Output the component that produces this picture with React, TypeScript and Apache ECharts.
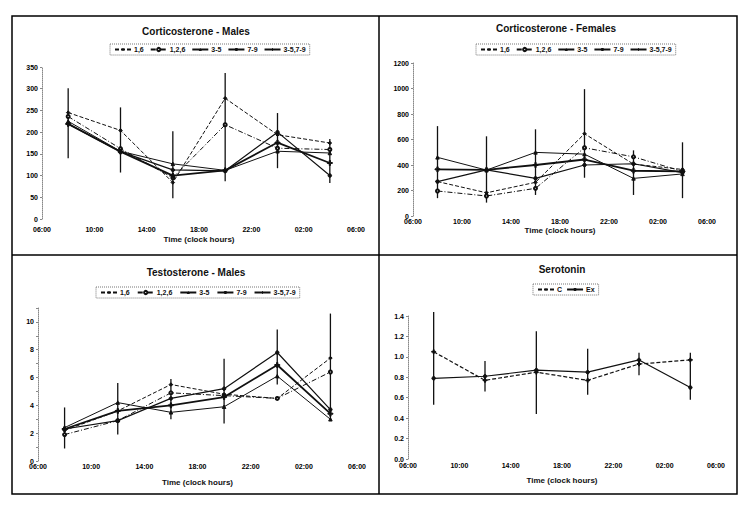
import React, { useEffect, useRef } from "react";
import * as echarts from "echarts";

// Clock hours at which samples were taken
const sampleHours = [8, 12, 16, 20, 0, 4];
const groupNames = ["1,6", "1,2,6", "3-5", "7-9", "3-5,7-9"];
const serotoninNames = ["C", "Ex"];

// Corticosterone - Males
const cortM_16 = [245, 204, 84, 278, 194, 175];
const cortM_126 = [236, 162, 95, 217, 163, 160];
const cortM_35 = [225, 156, 127, 112, 156, 152];
const cortM_79 = [219, 155, 113, 111, 200, 100];
const cortM_all = [219, 155, 100, 112, 176, 129];
const cortM_errLow = [140, 107, 48, 87, 117, 83];
const cortM_errHigh = [301, 257, 202, 336, 244, 184];

// Corticosterone - Females
const cortF_16 = [270, 182, 264, 645, 407, 365];
const cortF_126 = [196, 157, 217, 535, 464, 350];
const cortF_35 = [460, 360, 499, 485, 295, 330];
const cortF_79 = [270, 362, 295, 400, 410, 340];
const cortF_all = [366, 362, 400, 443, 355, 350];
const cortF_errLow = [140, 105, 165, 300, 165, 140];
const cortF_errHigh = [705, 625, 680, 995, 515, 578];

// Testosterone - Males
const testo_16 = [2.2, 3.6, 5.5, 4.8, 4.5, 7.4];
const testo_126 = [1.9, 2.9, 4.9, 4.7, 4.5, 6.4];
const testo_35 = [2.4, 4.2, 3.5, 3.9, 6.1, 3.0];
const testo_79 = [2.3, 2.9, 4.5, 5.2, 7.8, 3.7];
const testo_all = [2.3, 3.6, 4.0, 4.6, 6.9, 3.4];
const testo_errLow = [0.9, 1.9, 3.0, 2.7, 5.5, 2.9];
const testo_errHigh = [3.85, 5.6, 5.9, 7.35, 9.45, 10.6];

// Serotonin
const sero_C = [1.05, 0.77, 0.85, 0.77, 0.93, 0.97];
const sero_Ex = [0.79, 0.81, 0.87, 0.85, 0.97, 0.70];
const sero_errLow = [0.53, 0.66, 0.44, 0.63, 0.82, 0.58];
const sero_errHigh = [1.44, 0.96, 1.25, 1.08, 1.04, 1.04];

const FONT = "'Liberation Sans', Arial, sans-serif";
const INK = "#111";

const offsets = sampleHours.map((h) => (h - 6 + 24) % 24);
const fmtHour = (v: number) => String((v + 6) % 24).padStart(2, "0") + ":00";

const PLUS = "path://M0,4h3v-4h2v4h3v2h-3v4h-2v-4h-3z";

const groupStyles = [
  { symbol: "diamond", size: 3.5, width: 1, type: [4, 2] as any },
  { symbol: "emptyCircle", size: 3, width: 1, type: [5, 2, 1, 2] as any },
  { symbol: "triangle", size: 3.5, width: 1, type: "solid" },
  { symbol: "circle", size: 3.5, width: 1.2, type: "solid" },
  { symbol: PLUS, size: 5, width: 1.8, type: "solid" },
];
const seroStyles = [
  { symbol: PLUS, size: 4, width: 1.2, type: [4, 2] as any },
  { symbol: "circle", size: 3.5, width: 1.2, type: "solid" },
];

function lineSeries(name: string, vals: number[], idx: number, st: any) {
  return {
    type: "line",
    name,
    xAxisIndex: idx,
    yAxisIndex: idx,
    data: offsets.map((x, i) => [x, vals[i]]),
    symbol: st.symbol,
    symbolSize: st.size,
    lineStyle: { color: INK, width: st.width, type: st.type },
    itemStyle: { color: INK, borderColor: INK },
    z: 3,
  };
}

function errSeries(lo: number[], hi: number[], idx: number) {
  return {
    type: "custom",
    xAxisIndex: idx,
    yAxisIndex: idx,
    data: offsets.map((x, i) => [x, lo[i], hi[i]]),
    encode: { x: 0, y: [1, 2] },
    renderItem: (params: any, api: any) => {
      const p1 = api.coord([api.value(0), api.value(1)]);
      const p2 = api.coord([api.value(0), api.value(2)]);
      return {
        type: "line",
        shape: { x1: p1[0], y1: p1[1], x2: p2[0], y2: p2[1] },
        style: { stroke: INK, lineWidth: 1.3 },
      };
    },
    z: 2,
  };
}

function xAxis(idx: number, margin: number, nameGap: number) {
  return {
    type: "value",
    gridIndex: idx,
    min: 0,
    max: 24,
    interval: 4,
    axisLine: { show: false },
    axisTick: { show: false },
    splitLine: { show: false },
    axisLabel: {
      formatter: fmtHour,
      fontSize: 7,
      fontWeight: "bold",
      color: "#000",
      margin,
      fontFamily: FONT,
      showMinLabel: true,
      showMaxLabel: true,
    },
    name: "Time (clock hours)",
    nameLocation: "middle",
    nameGap,
    nameTextStyle: { fontSize: 8, fontWeight: "bold", color: INK, fontFamily: FONT },
  };
}

function yAxis(idx: number, max: number, interval: number, fmt: (v: number) => string) {
  return {
    type: "value",
    gridIndex: idx,
    min: 0,
    max,
    interval,
    axisLine: { show: true, lineStyle: { color: "#888", type: "dotted", width: 1 } },
    axisTick: { show: true, length: 2, lineStyle: { color: "#888" } },
    splitLine: { show: false },
    axisLabel: {
      fontSize: 7,
      fontWeight: "bold",
      color: "#000",
      margin: 4,
      fontFamily: FONT,
      formatter: fmt,
    },
  };
}

function legend(data: string[], left: number, top: number, gap: number) {
  return {
    data,
    left,
    top,
    orient: "horizontal",
    itemWidth: 16,
    itemHeight: 4,
    itemGap: gap,
    padding: [2, 4],
    borderColor: "#777",
    borderWidth: 1,
    borderType: "dotted",
    textStyle: { fontSize: 7, fontWeight: "bold", color: INK, fontFamily: FONT, padding: [0, 0, 0, -2] },
  };
}

function titleText(text: string, x: number, y: number) {
  return {
    type: "text",
    x,
    y,
    style: {
      text,
      fill: INK,
      font: `bold 10px ${FONT}`,
      textAlign: "center",
      textVerticalAlign: "middle",
    },
    z: 10,
  };
}

export default function App() {
  const ref = useRef<HTMLDivElement>(null);
  useEffect(() => {
    if (!ref.current) return;
    const chart = echarts.init(ref.current, null, { renderer: "svg" });
    const cmVals = [cortM_16, cortM_126, cortM_35, cortM_79, cortM_all];
    const cfVals = [cortF_16, cortF_126, cortF_35, cortF_79, cortF_all];
    const tVals = [testo_16, testo_126, testo_35, testo_79, testo_all];
    const sVals = [sero_C, sero_Ex];
    const series: any[] = [];
    series.push(errSeries(cortM_errLow, cortM_errHigh, 0));
    series.push(errSeries(cortF_errLow, cortF_errHigh, 1));
    series.push(errSeries(testo_errLow, testo_errHigh, 2));
    series.push(errSeries(sero_errLow, sero_errHigh, 3));
    groupNames.forEach((n, i) => series.push(lineSeries(n, cmVals[i], 0, groupStyles[i])));
    groupNames.forEach((n, i) => series.push(lineSeries(n, cfVals[i], 1, groupStyles[i])));
    groupNames.forEach((n, i) => series.push(lineSeries(n, tVals[i], 2, groupStyles[i])));
    serotoninNames.forEach((n, i) => series.push(lineSeries(n, sVals[i], 3, seroStyles[i])));

    const option: any = {
      animation: false,
      backgroundColor: "#fff",
      textStyle: { fontFamily: FONT },
      grid: [
        { left: 42, top: 67, width: 314, height: 152 },
        { left: 413, top: 63, width: 294, height: 153 },
        { left: 38, top: 308, width: 319, height: 153 },
        { left: 408, top: 316, width: 308, height: 143 },
      ],
      xAxis: [xAxis(0, 7, 16), xAxis(1, 2, 10), xAxis(2, 2, 17), xAxis(3, 3, 17)],
      yAxis: [
        yAxis(0, 350, 50, (v: number) => String(v)),
        yAxis(1, 1200, 200, (v: number) => String(v)),
        yAxis(2, 11, 1, (v: number) => (v % 2 === 0 && v <= 10 ? String(v) : "")),
        yAxis(3, 1.4, 0.2, (v: number) => v.toFixed(1)),
      ],
      legend: [
        legend(groupNames, 110, 44, 6),
        legend(groupNames, 476, 44, 6),
        legend(groupNames, 96, 287, 7),
        legend(serotoninNames, 533, 284, 4),
      ],
      graphic: [
        {
          type: "rect",
          shape: { x: 12, y: 16, width: 725, height: 478 },
          style: { fill: "none", stroke: "#000", lineWidth: 1.5 },
          z: 0,
        },
        { type: "line", shape: { x1: 379, y1: 16, x2: 379, y2: 494 }, style: { stroke: "#000", lineWidth: 1.5 } },
        { type: "line", shape: { x1: 12, y1: 255, x2: 737, y2: 255 }, style: { stroke: "#000", lineWidth: 1.5 } },
        titleText("Corticosterone - Males", 196, 31),
        titleText("Corticosterone - Females", 556, 28),
        titleText("Testosterone - Males", 196, 272),
        titleText("Serotonin", 562, 269),
      ],
      series,
    };
    chart.setOption(option);
    return () => chart.dispose();
  }, []);
  return (
    <div
      ref={ref}
      style={{ position: "absolute", left: 0, top: 0, width: 752, height: 507, background: "#fff" }}
    />
  );
}
